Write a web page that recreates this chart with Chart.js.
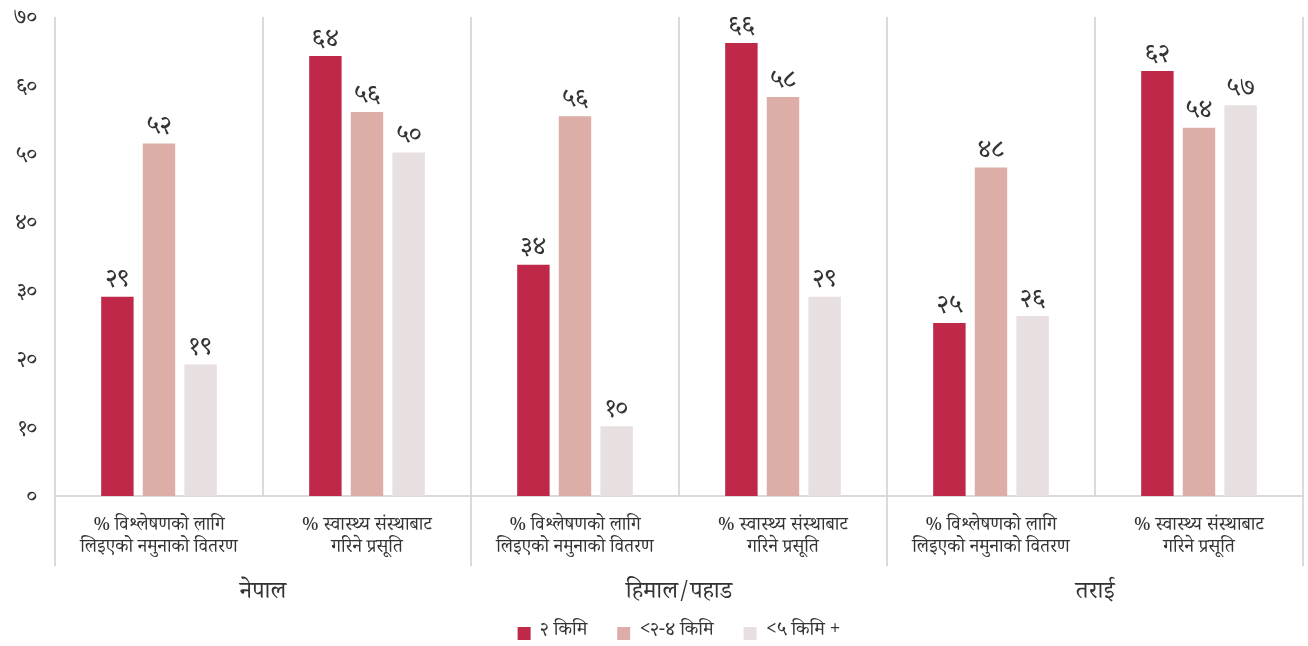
<!DOCTYPE html>
<html>
<head>
<meta charset="utf-8">
<script src="https://cdn.jsdelivr.net/npm/chart.js@4"></script>
<style>
  html, body { margin: 0; padding: 0; background: #fff; }
  #wrap { width: 1308px; height: 646px; }
</style>
</head>
<body>
<div id="wrap"><canvas id="chart" width="1308" height="646"></canvas></div>
<script>
const categories = [
  ['% विश्लेषणको लागि', 'लिइएको नमुनाको वितरण'],
  ['% स्वास्थ्य संस्थाबाट', 'गरिने प्रसूति'],
  ['% विश्लेषणको लागि', 'लिइएको नमुनाको वितरण'],
  ['% स्वास्थ्य संस्थाबाट', 'गरिने प्रसूति'],
  ['% विश्लेषणको लागि', 'लिइएको नमुनाको वितरण'],
  ['% स्वास्थ्य संस्थाबाट', 'गरिने प्रसूति']
];
const groups = ['नेपाल', 'हिमाल/पहाड', 'तराई'];
const seriesNames = ['२ किमि', '<२-४ किमि', '<५ किमि +'];
const near2km = [29.1, 64.3, 33.8, 66.2, 25.3, 62.1];
const mid2to4km = [51.5, 56.1, 55.5, 58.3, 48.0, 53.8];
const far5km = [19.2, 50.2, 10.2, 29.1, 26.3, 57.1];
const yTicks = [0, 10, 20, 30, 40, 50, 60, 70];

const colors = ['#C0284A', '#DDADA8', '#E7DFE0'];
const gridColor = '#DADADA';
const textColor = '#333333';
const fontFamily = "'Noto Serif Devanagari', 'Noto Serif', serif";

const devDigits = '०१२३४५६७८९';
const toDev = (n) => String(n).replace(/[0-9]/g, d => devDigits[+d]);

// vertical separators, group labels under the category labels
const separators = {
  id: 'separators',
  beforeDatasetsDraw(chart) {
    const { ctx, chartArea } = chart;
    const n = categories.length;
    const step = (chartArea.right - chartArea.left) / n;
    ctx.save();
    ctx.strokeStyle = gridColor;
    ctx.lineWidth = 2;
    for (let i = 0; i <= n; i++) {
      const px = Math.round(chartArea.left + i * step);
      const bottom = (i % 2 === 0) ? chartArea.bottom + 70 : chartArea.bottom;
      ctx.beginPath();
      ctx.moveTo(px, chartArea.top);
      ctx.lineTo(px, bottom);
      ctx.stroke();
    }
    ctx.restore();
  },
  afterDraw(chart) {
    const { ctx, chartArea, scales: { x } } = chart;
    ctx.save();
    ctx.font = '24px ' + fontFamily;
    ctx.fillStyle = textColor;
    ctx.textAlign = 'center';
    ctx.textBaseline = 'middle';
    groups.forEach((g, i) => {
      const cx = (x.getPixelForValue(i * 2) + x.getPixelForValue(i * 2 + 1)) / 2;
      ctx.fillText(g, cx, chartArea.bottom + 100);
    });
    ctx.restore();
  }
};

const valueLabels = {
  id: 'valueLabels',
  afterDatasetsDraw(chart) {
    const { ctx } = chart;
    ctx.save();
    ctx.font = '26px ' + fontFamily;
    ctx.fillStyle = textColor;
    ctx.textAlign = 'center';
    ctx.textBaseline = 'bottom';
    chart.data.datasets.forEach((ds, di) => {
      chart.getDatasetMeta(di).data.forEach((bar, i) => {
        ctx.fillText(toDev(Math.round(ds.data[i])), bar.x, bar.y);
      });
    });
    ctx.restore();
  }
};

new Chart(document.getElementById('chart'), {
  type: 'bar',
  data: {
    labels: categories,
    datasets: [
      { label: seriesNames[0], data: near2km, backgroundColor: colors[0] },
      { label: seriesNames[1], data: mid2to4km, backgroundColor: colors[1] },
      { label: seriesNames[2], data: far5km, backgroundColor: colors[2] }
    ]
  },
  options: {
    responsive: false,
    animation: false,
    layout: { padding: { top: 4, right: 5, left: 0, bottom: -7 } },
    datasets: { bar: { categoryPercentage: 0.6, barPercentage: 0.78 } },
    scales: {
      x: {
        grid: { display: false },
        border: { display: true, color: gridColor, width: 2 },
        ticks: {
          color: textColor,
          font: { size: 18.5, family: fontFamily, lineHeight: 1.15 },
          padding: 14,
          maxRotation: 0,
          autoSkip: false
        },
        afterFit(scale) { scale.height = 98; }
      },
      y: {
        min: 0,
        max: 70,
        grid: { display: false, tickLength: 12 },
        border: { display: false },
        afterBuildTicks(scale) { scale.ticks = yTicks.map(v => ({ value: v })); },
        afterFit(scale) { scale.width = 55; },
        ticks: {
          color: textColor,
          font: { size: 22, family: fontFamily, lineHeight: 1 },
          padding: 6,
          labelOffset: 5,
          callback: (v) => toDev(v)
        }
      }
    },
    plugins: {
      legend: {
        position: 'bottom',
        fullSize: false,
        labels: {
          color: textColor,
          font: { size: 19, family: fontFamily },
          boxWidth: 13,
          boxHeight: 13,
          padding: 30
        }
      },
      tooltip: { enabled: false }
    }
  },
  plugins: [separators, valueLabels]
});
</script>
</body>
</html>
